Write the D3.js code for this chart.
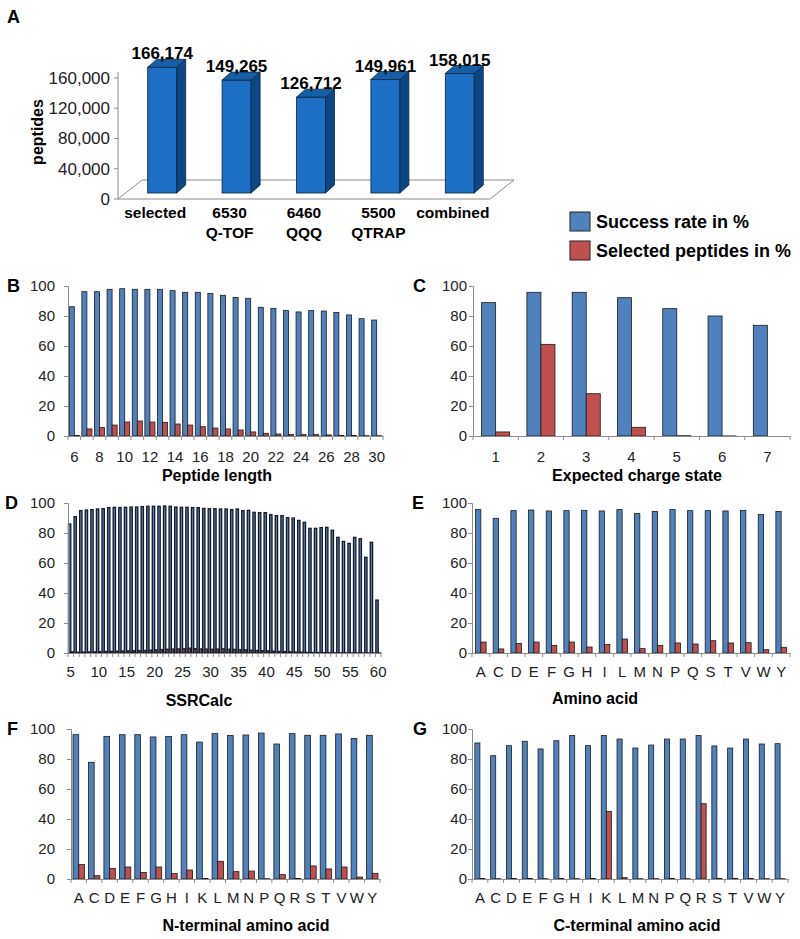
<!DOCTYPE html>
<html>
<head>
<meta charset="utf-8">
<script src="https://cdn.jsdelivr.net/npm/d3@7"></script>
<style>
  body { margin: 0; background: #fff; }
  svg { font-family: "Liberation Sans", Arial, sans-serif; }
</style>
</head>
<body>
<svg id="fig" width="800" height="939"></svg>
<script>
// ---- data ----
const aCategories = [['selected'], ['6530', 'Q-TOF'], ['6460', 'QQQ'], ['5500', 'QTRAP'], ['combined']];
const aPeptides = [166174, 149265, 126712, 149961, 158015];
const aTicks = [0, 40000, 80000, 120000, 160000];

const pctTicks = [0, 20, 40, 60, 80, 100];

const lengthCats = d3.range(6, 31);
const lengthSuccess = [86.2, 96.2, 96.2, 97.8, 98.2, 97.8, 97.8, 97.8, 96.9, 95.8, 95.8, 95.1, 93.8,
  92.4, 91.8, 85.8, 85.1, 83.6, 82.7, 83.6, 83.3, 82.4, 80.7, 78.2, 77.3];
const lengthSelected = [0.3, 4.7, 5.6, 7.3, 9.3, 10, 9.3, 9.1, 8, 7.3, 6.2, 5.3, 4.7,
  4, 2.7, 1.8, 1.3, 1.1, 0.9, 0.9, 0.7, 0.4, 0.4, 0.2, 0.2];

const chargeCats = [1, 2, 3, 4, 5, 6, 7];
const chargeSuccess = [88.9, 95.8, 95.8, 92.2, 84.9, 80, 73.8];
const chargeSelected = [2.7, 61.1, 28.2, 5.8, 0.2, 0.05, 0];

const ssrCats = d3.range(5, 61);
const ssrSuccess = [86, 90.9, 94.9, 95.3, 95.6, 96, 96.2, 96.9, 97.1, 96.9, 97.1, 97.3, 97.3, 97.6,
  97.8, 97.8, 97.8, 98, 97.8, 97.3, 97.1, 97.1, 96.9, 96.9, 96.4, 96.2, 96.2, 96, 96, 95.6,
  96, 94.9, 95.1, 93.8, 93.6, 93.6, 92.2, 91.6, 91.6, 90.2, 90, 88.4, 87.1, 83.1, 83.1, 83.6,
  83.8, 81.8, 77.1, 74.4, 73.1, 77.1, 76.2, 63.8, 73.8, 35.3];
const ssrSelected = [0.8, 0.5, 0.6, 0.7, 0.8, 0.9, 1.0, 1.1, 1.2, 1.3, 1.4, 1.5, 1.6, 1.7,
  1.9, 2.1, 2.3, 2.5, 2.6, 2.7, 2.8, 3.2, 2.9, 2.7, 2.6, 2.5, 2.6, 2.8, 2.5, 2.4,
  2.2, 2.1, 1.9, 1.7, 1.5, 1.4, 1.2, 1.0, 0.9, 0.8, 0.6, 0.5, 0.4, 0.3, 0.3, 0.2,
  0.2, 0.1, 0.1, 0.1, 0.05, 0.05, 0.02, 0.02, 0.01, 0.01];

const aaCats = ['A', 'C', 'D', 'E', 'F', 'G', 'H', 'I', 'L', 'M', 'N', 'P', 'Q', 'S', 'T', 'V', 'W', 'Y'];
const aaSuccess = [95.6, 89.8, 94.9, 95.3, 94.7, 94.9, 95.1, 94.7, 95.6, 93.1, 94.4, 95.6, 94.9, 94.9, 94.7, 95.1, 92.4, 94.4];
const aaSelected = [7.3, 2.7, 6.4, 7.3, 5.1, 7.3, 4, 5.6, 9.3, 2.9, 5.1, 6.7, 6, 8.2, 6.7, 6.9, 2.2, 3.8];

const termCats = ['A', 'C', 'D', 'E', 'F', 'G', 'H', 'I', 'K', 'L', 'M', 'N', 'P', 'Q', 'R', 'S', 'T', 'V', 'W', 'Y'];
const nTermSuccess = [96.2, 77.8, 95.1, 96.2, 96.2, 94.7, 95.1, 96.2, 91.3, 96.9, 95.6, 96, 97.3, 90, 96.9, 95.8, 95.8, 96.7, 93.6, 95.8];
const nTermSelected = [9.6, 2.2, 7.1, 8, 4.4, 8, 3.6, 6, 0.4, 11.8, 4.9, 5.3, 0.2, 2.9, 0.4, 8.7, 6.7, 8, 1.3, 3.8];
const cTermSuccess = [90.7, 82.2, 88.9, 91.8, 86.7, 92.2, 95.6, 88.9, 95.6, 93.3, 87.3, 89.3, 93.3, 93.3, 95.6, 88.7, 87.3, 93.3, 90, 90.2];
const cTermSelected = [0.3, 0.2, 0.3, 0.3, 0.2, 0.3, 0.2, 0.3, 45.1, 0.9, 0.2, 0.2, 0.3, 0.2, 50.2, 0.3, 0.3, 0.3, 0.2, 0.2];

const blue = '#4f81bd';
const red = '#c0504d';
const axisGrey = '#8c8c8c';
const svg = d3.select('#fig');

// ---- panel A (3D style column chart) ----
const xA = d3.scaleBand().domain(d3.range(aPeptides.length)).range([118, 490]);
const yA = d3.scaleLinear().domain([0, 160000]).range([199, 78]);
const depth = [24, -19];

svg.append('text').attr('x', 7).attr('y', 17).attr('dy', '0.35em')
  .style('font-size', '18px').style('font-weight', 'bold').text('A');

svg.append('polygon')
  .attr('points', [[xA.range()[0], yA(0)], [xA.range()[1], yA(0)],
    [xA.range()[1] + depth[0], yA(0) + depth[1]], [xA.range()[0] + depth[0], yA(0) + depth[1]]].join(' '))
  .attr('fill', 'none').attr('stroke', axisGrey);

svg.append('line').attr('x1', 118).attr('x2', 118).attr('y1', yA(0)).attr('y2', 72).attr('stroke', axisGrey);
svg.append('g').selectAll('line').data(aTicks).join('line')
  .attr('x1', 114).attr('x2', 118).attr('y1', d => yA(d)).attr('y2', d => yA(d)).attr('stroke', axisGrey);
svg.append('g').selectAll('text').data(aTicks).join('text')
  .attr('x', 110).attr('y', d => yA(d)).attr('dy', '0.35em').attr('text-anchor', 'end')
  .style('font-size', '17px').style('fill', '#222').text(d3.format(','));

svg.append('text').attr('transform', 'translate(43,132) rotate(-90)').attr('text-anchor', 'middle')
  .style('font-size', '16px').style('font-weight', 'bold').text('peptides');

const barW = 29, side = [9, -8];
const bars = svg.append('g').selectAll('g').data(aPeptides).join('g');
bars.each(function (v, i) {
  const g = d3.select(this);
  const cx = xA(i) + xA.bandwidth() / 2 + 7;
  const x0 = cx - barW / 2, x1 = cx + barW / 2;
  const yb = yA(0) - 6, yt = yA(v) - 6;
  g.append('rect').attr('x', x0).attr('y', yt).attr('width', barW).attr('height', yb - yt)
    .attr('fill', '#1c6fc4').attr('stroke', '#0b2340').attr('stroke-width', 0.8);
  g.append('polygon').attr('points', [[x1, yt], [x1 + side[0], yt + side[1]], [x1 + side[0], yb + side[1]], [x1, yb]].join(' '))
    .attr('fill', '#0d4783').attr('stroke', '#0b2340').attr('stroke-width', 0.8);
  g.append('polygon').attr('points', [[x0, yt], [x0 + side[0], yt + side[1]], [x1 + side[0], yt + side[1]], [x1, yt]].join(' '))
    .attr('fill', '#155fa6').attr('stroke', '#0b2340').attr('stroke-width', 0.8);
  g.append('text').attr('x', cx).attr('y', yt - 8).attr('text-anchor', 'middle')
    .style('font-size', '17px').style('font-weight', 'bold').text(d3.format(',')(v));
});

svg.append('g').selectAll('text').data(aCategories).join('text')
  .attr('x', (d, i) => xA(i) + xA.bandwidth() / 2)
  .attr('text-anchor', 'middle').style('font-size', '15.5px').style('font-weight', 'bold')
  .each(function (lines) {
    d3.select(this).selectAll('tspan').data(lines).join('tspan')
      .attr('x', d3.select(this).attr('x')).attr('y', (d, j) => 218 + j * 20).text(d => d);
  });

// ---- legend ----
const legend = [['Success rate in %', blue], ['Selected peptides in %', red]];
const lg = svg.append('g').selectAll('g').data(legend).join('g')
  .attr('transform', (d, i) => `translate(570,${212 + i * 29})`);
lg.append('rect').attr('width', 20).attr('height', 19).attr('fill', d => d[1]).attr('stroke', '#222');
lg.append('text').attr('x', 26).attr('y', 10).attr('dy', '0.35em')
  .style('font-size', '18px').style('font-weight', 'bold').text(d => d[0]);

// ---- panels B-G ----
function panel(o) {
  const x = d3.scaleBand().domain(o.cats).range([o.left, o.right]);
  const y = d3.scaleLinear().domain([0, 100]).range([o.y0, o.y100]);
  const g = svg.append('g');
  const bw = x.bandwidth() * o.barFrac;
  const off = (x.bandwidth() - 2 * bw) / 2;

  g.append('text').attr('x', o.letterX).attr('y', o.y100).attr('dy', '0.35em')
    .style('font-size', '18px').style('font-weight', 'bold').text(o.letter);

  [[o.success, blue, 0], [o.selected, red, 1]].forEach(([vals, col, k]) => {
    g.append('g').selectAll('rect').data(o.cats).join('rect')
      .attr('x', d => x(d) + off + k * bw)
      .attr('y', (d, i) => y(vals[i]))
      .attr('width', bw)
      .attr('height', (d, i) => y(0) - y(vals[i]))
      .attr('fill', col).attr('stroke', o.strokeCol || '#1b1b1b').attr('stroke-width', o.stroke || 0.8);
  });

  // y axis
  const ya = g.append('g').attr('transform', `translate(${o.left},0)`)
    .call(d3.axisLeft(y).tickValues(pctTicks).tickSize(4).tickPadding(o.left - o.labelRight - 4));
  ya.select('.domain').attr('stroke', axisGrey);
  ya.selectAll('line').attr('stroke', axisGrey);
  ya.selectAll('text').style('font-size', '15px').style('fill', '#222').style('font-family', 'inherit');

  // x axis
  const labelled = o.cats.filter((d, i) => i % o.every === 0);
  const xa = g.append('g').attr('transform', `translate(0,${o.y0})`)
    .call(d3.axisBottom(x).tickValues(labelled).tickSize(0).tickSizeOuter(0));
  xa.select('.domain').attr('stroke', axisGrey);
  xa.selectAll('text').attr('y', o.labelY - o.y0).attr('dy', '0.35em')
    .style('font-size', '15px').style('fill', '#222').style('font-family', 'inherit');
  const bounds = o.cats.map(d => x(d)).concat([o.right]);
  g.append('g').selectAll('line').data(bounds).join('line')
    .attr('x1', d => d).attr('x2', d => d).attr('y1', o.y0).attr('y2', o.y0 + 4).attr('stroke', axisGrey);

  g.append('text').attr('x', o.titleX).attr('y', o.titleY).attr('dy', '0.35em').attr('text-anchor', 'middle')
    .style('font-size', '16px').style('font-weight', 'bold').text(o.title);
}

panel({ letter: 'B', letterX: 7, cats: lengthCats, success: lengthSuccess, selected: lengthSelected,
  left: 68, right: 383, y0: 436, y100: 286, labelRight: 55, barFrac: 0.4, every: 2,
  labelY: 457, title: 'Peptide length', titleX: 217, titleY: 475 });

panel({ letter: 'C', letterX: 413, cats: chargeCats, success: chargeSuccess, selected: chargeSelected,
  left: 473, right: 790, y0: 436, y100: 286, labelRight: 467, barFrac: 0.31, every: 1,
  labelY: 457, title: 'Expected charge state', titleX: 637, titleY: 475 });

panel({ letter: 'D', letterX: 5, cats: ssrCats, success: ssrSuccess, selected: ssrSelected,
  left: 68, right: 381, y0: 653, y100: 503, labelRight: 55, barFrac: 0.42, every: 5,
  stroke: 1.3, strokeCol: '#161a22',
  labelY: 672, title: 'SSRCalc', titleX: 199, titleY: 700 });

panel({ letter: 'E', letterX: 412, cats: aaCats, success: aaSuccess, selected: aaSelected,
  left: 472, right: 790, y0: 653, y100: 503, labelRight: 467, barFrac: 0.3, every: 1,
  labelY: 672, title: 'Amino acid', titleX: 595, titleY: 698 });

panel({ letter: 'F', letterX: 7, cats: termCats, success: nTermSuccess, selected: nTermSelected,
  left: 71, right: 380, y0: 879, y100: 729, labelRight: 55, barFrac: 0.37, every: 1,
  labelY: 898, title: 'N-terminal amino acid', titleX: 246, titleY: 925 });

panel({ letter: 'G', letterX: 413, cats: termCats, success: cTermSuccess, selected: cTermSelected,
  left: 472, right: 788, y0: 879, y100: 729, labelRight: 467, barFrac: 0.32, every: 1,
  labelY: 898, title: 'C-terminal amino acid', titleX: 637, titleY: 925 });
</script>
</body>
</html>
